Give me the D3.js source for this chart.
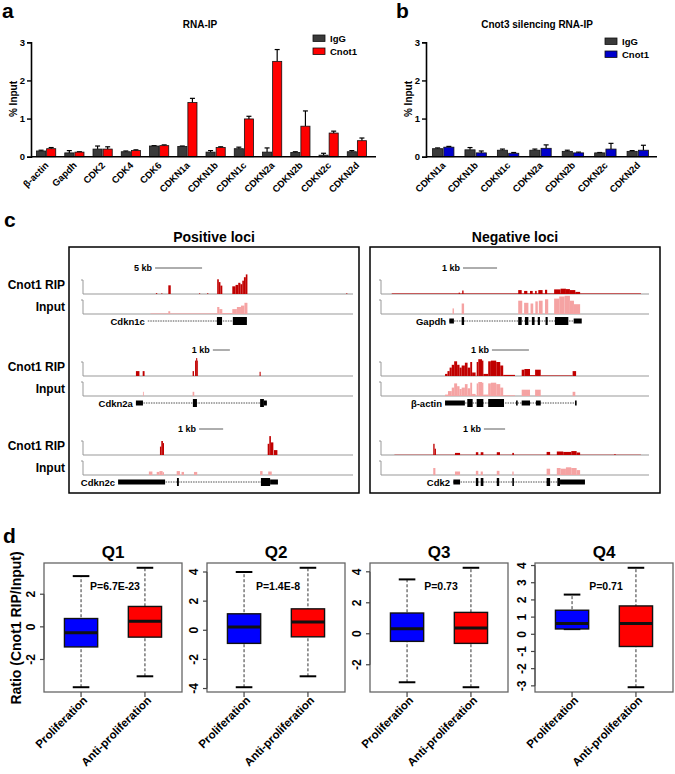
<!DOCTYPE html>
<html>
<head>
<meta charset="utf-8">
<script src="https://cdn.jsdelivr.net/npm/d3@7"></script>
<style>
  body { margin: 0; background: #fff; }
  text { font-family: "Liberation Sans", Arial, sans-serif; font-weight: bold; }
</style>
</head>
<body>
<script>
// ---- panel a / b data ----
const genesA = ["β-actin", "Gapdh", "CDK2", "CDK4", "CDK6", "CDKN1a", "CDKN1b", "CDKN1c", "CDKN2a", "CDKN2b", "CDKN2c", "CDKN2d"];
const iggA = [0.15, 0.10, 0.20, 0.13, 0.28, 0.27, 0.12, 0.21, 0.12, 0.11, 0.04, 0.13];
const iggAErr = [0.02, 0.06, 0.08, 0.02, 0.01, 0.01, 0.04, 0.04, 0.11, 0.02, 0.05, 0.03];
const cnot1A = [0.21, 0.12, 0.20, 0.16, 0.29, 1.42, 0.24, 0.99, 2.50, 0.80, 0.62, 0.42];
const cnot1AErr = [0.03, 0.01, 0.06, 0.02, 0.02, 0.11, 0.02, 0.07, 0.31, 0.40, 0.05, 0.07];

const genesB = ["CDKN1a", "CDKN1b", "CDKN1c", "CDKN2a", "CDKN2b", "CDKN2c", "CDKN2d"];
const iggB = [0.21, 0.18, 0.17, 0.17, 0.14, 0.10, 0.14];
const iggBErr = [0.02, 0.06, 0.03, 0.03, 0.03, 0.01, 0.02];
const cnot1B = [0.25, 0.10, 0.09, 0.22, 0.10, 0.20, 0.17];
const cnot1BErr = [0.02, 0.05, 0.02, 0.09, 0.02, 0.15, 0.13];
const yTicksAB = [0, 1, 2, 3];

// ---- panel c data: blocks [start, end, height] on a 0-100 track ----
const cdkn1cRip = [[27, 27.5, 0.06], [29, 29.4, 0.05], [31.6, 32.5, 0.62], [43, 43.4, 0.05], [46, 46.4, 0.06],
  [49.7, 50.3, 1.05], [50.3, 50.9, 0.85], [50.9, 51.6, 0.6], [55.3, 56.5, 0.55], [56.5, 57.5, 0.65],
  [57.5, 58.3, 0.8], [58.3, 59, 0.7], [59, 59.6, 0.95], [59.6, 60.3, 1.2], [60.3, 60.9, 1.4], [97.5, 97.9, 0.05]];
const cdkn1cInput = [[25, 31.6, 0.04], [31.6, 32.3, 0.2], [32.3, 49.7, 0.04], [49.7, 50.5, 0.5], [50.5, 51.6, 0.35],
  [51.6, 55.3, 0.06], [55.3, 57, 0.35], [57, 58.5, 0.5], [58.5, 59.8, 0.6], [59.8, 60.9, 0.8]];
const cdkn1cGene = [[24, 60.7, "line"], [49.6, 51.5, "tall"], [55.5, 60.7, "tall"]];

const cdkn2aRip = [[19.6, 20.9, 0.35], [22.1, 22.8, 0.35], [40.6, 41.1, 0.35], [41.5, 41.9, 1.1], [41.9, 42.3, 1.28],
  [42.3, 42.6, 1.1], [65.4, 65.8, 0.3]];
const cdkn2aInput = [[22.2, 22.5, 0.3], [40.6, 41.2, 0.3]];
const cdkn2aGene = [[19.6, 68.1, "line"], [19.6, 22.2, "mid"], [40.7, 42.2, "tall"], [65.6, 67, "tall"], [67, 68.1, "mid"]];

const cdkn2cRip = [[28.5, 29, 0.6], [29, 29.6, 1.0], [29.6, 30, 0.85], [68.4, 69, 0.8], [69, 69.6, 1.35],
  [69.6, 70.5, 0.9], [70.7, 72, 0.35]];
const cdkn2cInput = [[24.4, 25.7, 0.25], [27.3, 28.3, 0.22], [28.3, 29.5, 0.28], [29.5, 30, 0.2], [34.7, 35.9, 0.28],
  [36.5, 37.4, 0.22], [41.1, 42.3, 0.22], [65.6, 66.5, 0.28], [68.6, 69.9, 0.25]];
const cdkn2cGene = [[13, 72.2, "line"], [13, 30.4, "mid"], [34.8, 35.5, "tall"], [65.9, 69.3, "tall"], [69.3, 72.2, "mid"]];

const gapdhRip = [[4, 97, 0.04], [29, 29.4, 0.1], [30.3, 30.8, 0.25], [51.2, 52.5, 0.28], [53.4, 54.6, 0.22],
  [55.6, 56.6, 0.22], [57.5, 58.1, 0.22], [58.7, 60.3, 0.28], [61.2, 62, 0.3], [64.6, 67, 0.33], [67, 69, 0.38],
  [69, 70.5, 0.35], [70.5, 72.5, 0.28], [72.5, 74.3, 0.15]];
const gapdhInput = [[26.7, 27.2, 0.4], [30.1, 31, 0.75], [51.2, 52.7, 0.95], [53.4, 55, 0.8], [55.8, 56.8, 0.75],
  [57.6, 58.5, 0.9], [58.9, 60.3, 0.95], [61.2, 62.4, 1.05], [64.6, 66.5, 1.1], [66.5, 68.5, 1.25], [68.5, 70.5, 1.3],
  [70.5, 72, 0.95], [72, 74.3, 0.7]];
const gapdhGene = [[25.4, 74.6, "line"], [25.5, 27.2, "mid"], [30.1, 31, "tall"], [51.2, 52.5, "tall"], [53.7, 55, "tall"],
  [56.3, 57.3, "tall"], [58.5, 59.3, "tall"], [61.4, 62.2, "tall"], [64.9, 69.9, "tall"], [71.9, 74.9, "mid"]];

const actinRip = [[23.9, 24.8, 0.15], [24.8, 25.6, 0.35], [25.6, 26.4, 0.6], [26.4, 27.3, 0.8], [27.3, 28.4, 1.05],
  [28.4, 29.3, 0.8], [29.3, 30.1, 0.6], [30.1, 31.3, 0.75], [31.3, 32.3, 0.95], [32.3, 33.3, 0.6], [33.3, 34, 1.0],
  [34, 35.3, 0.25], [35.7, 36.3, 1.0], [36.3, 37.7, 1.2], [37.7, 38.2, 1.1], [38.2, 40, 0.15], [40, 41, 1.05],
  [41, 43, 1.1], [43, 44.5, 1.0], [44.5, 45.6, 0.75], [45.6, 50, 0.08], [52.5, 53.5, 0.45], [53.5, 55.6, 0.5],
  [55.6, 57.5, 0.06], [57.5, 59.6, 0.45], [59.6, 71.5, 0.04], [71.5, 72.8, 0.35]];
const actinInput = [[23.9, 25, 0.1], [25, 26.4, 0.35], [26.4, 27.3, 0.6], [27.3, 28.4, 0.9], [28.4, 29.3, 0.7],
  [29.3, 30.1, 0.5], [30.1, 31.3, 0.6], [31.3, 32.3, 0.85], [32.3, 33.3, 0.55], [33.3, 34, 0.95], [34, 35.3, 0.15],
  [35.7, 36.3, 0.9], [36.3, 37.7, 1.0], [37.7, 38.2, 0.95], [38.2, 40, 0.1], [40, 41, 0.9], [41, 43, 0.95],
  [43, 44.5, 0.85], [44.5, 45.6, 0.6], [45.6, 50, 0.05], [52.5, 55.6, 0.45], [57.5, 59.6, 0.45], [71.5, 72.5, 0.3]];
const actinGene = [[23.9, 72.8, "line"], [23.9, 31.3, "mid"], [32.2, 34.2, "tall"], [35.7, 38.2, "tall"], [40, 45.9, "tall"],
  [50.4, 51, "mid"], [52.5, 55.6, "mid"], [57.8, 59.6, "mid"], [72.4, 73, "mid"]];

const cdk2Rip = [[5, 97, 0.02], [19.5, 20, 0.8], [20, 20.5, 0.45], [27.6, 29.5, 0.15], [35.4, 36.3, 0.2], [37.2, 38.2, 0.2],
  [43.2, 44.4, 0.2], [49, 49.6, 0.15], [61.8, 63.1, 0.22], [65.6, 68, 0.25], [68, 71, 0.22], [71, 73, 0.28],
  [73, 74.3, 0.18], [87, 87.6, 0.05]];
const cdk2Input = [[19.5, 20.3, 0.5], [27.6, 29.5, 0.25], [35.4, 36.3, 0.3], [37.2, 38, 0.25], [43.2, 44.2, 0.3],
  [49, 49.5, 0.25], [61.8, 63.1, 0.45], [65.6, 67, 0.5], [67, 69, 0.45], [69, 71, 0.55], [71, 73, 0.5], [73, 74.3, 0.35]];
const cdk2Gene = [[26.9, 76.1, "line"], [27, 29.5, "mid"], [35.4, 36.3, "tall"], [37.2, 38.2, "tall"], [43.2, 44.1, "tall"],
  [49, 49.6, "tall"], [61.8, 63.1, "tall"], [65.8, 66.8, "tall"], [66.8, 76.1, "mid"]];

const geneNamesPos = ["Cdkn1c", "Cdkn2a", "Cdkn2c"];
const geneNamesNeg = ["Gapdh", "β-actin", "Cdk2"];
const scaleLabelsPos = ["5 kb", "1 kb", "1 kb"];
const scaleLabelsNeg = ["1 kb", "1 kb", "1 kb"];
const scaleBarsPos = [[26.7, 44.1], [48.1, 54.4], [43, 51.9]];
const scaleBarsNeg = [[30.6, 43.3], [41.4, 55.2], [38.4, 46.3]];

// ---- panel d data: [low whisker, Q1, median, Q3, high whisker] ----
const quarterNames = ["Q1", "Q2", "Q3", "Q4"];
const groupNames = ["Proliferation", "Anti-proliferation"];
const prolifStats = [[-3.70, -1.23, -0.36, 0.51, 3.11], [-3.91, -0.90, 0.23, 1.13, 4.00],
  [-3.13, -0.49, 0.32, 1.34, 3.51], [0.30, 0.31, 0.63, 1.40, 2.31]];
const antiStats = [[-3.03, -0.63, 0.34, 1.25, 3.62], [-3.16, -0.45, 0.56, 1.47, 4.29],
  [-3.45, -0.62, 0.38, 1.38, 4.26], [-3.08, -0.71, 0.63, 1.65, 3.87]];
const pValues = ["P=6.7E-23", "P=1.4E-8", "P=0.73", "P=0.71"];
const yTicksD = [[-2, 0, 2], [-4, -2, 0, 2, 4], [-2, 0, 2, 4], [-3, -2, -1, 0, 1, 2, 3, 4]];

const svg = d3.select("body").append("svg").attr("width", 675).attr("height", 774);
svg.append("rect").attr("width", 675).attr("height", 774).attr("fill", "#fff");

// panel letters
[["a", 2, 18], ["b", 396, 18], ["c", 4, 227], ["d", 3, 543]].forEach(([t, x, y]) => {
  svg.append("text").attr("x", x).attr("y", y).attr("font-size", 21).text(t);
});

// Grouped bar chart for RNA-IP panels
function barPanel(cats, igg, iggErr, cnot, cnotErr, o) {
  const g = svg.append("g");
  const y = d3.scaleLinear().domain([0, 3]).range([156.7, 42.3]);
  const x0 = d3.scaleBand().domain(cats).range(o.band).paddingInner(o.pad).paddingOuter(o.pad / 2);
  const x1 = d3.scaleBand().domain(["IgG", "Cnot1"]).range([0, x0.bandwidth()]).paddingInner(0.1);

  g.append("text").attr("x", o.titleX).attr("y", 28).attr("text-anchor", "middle")
    .attr("font-size", 10).text(o.title);

  const rows = cats.map((c, i) => ({ c, vals: [["IgG", igg[i], iggErr[i]], ["Cnot1", cnot[i], cnotErr[i]]] }));
  const grp = g.selectAll("g.grp").data(rows).join("g")
    .attr("transform", d => `translate(${x0(d.c)},0)`);
  grp.selectAll("line.err").data(d => d.vals).join("line")
    .attr("x1", d => x1(d[0]) + x1.bandwidth() / 2).attr("x2", d => x1(d[0]) + x1.bandwidth() / 2)
    .attr("y1", d => y(d[1])).attr("y2", d => y(d[1] + d[2])).attr("stroke", "#000").attr("stroke-width", 1.2);
  grp.selectAll("line.cap").data(d => d.vals).join("line")
    .attr("x1", d => x1(d[0]) + x1.bandwidth() / 2 - 2.5).attr("x2", d => x1(d[0]) + x1.bandwidth() / 2 + 2.5)
    .attr("y1", d => y(d[1] + d[2])).attr("y2", d => y(d[1] + d[2])).attr("stroke", "#000").attr("stroke-width", 1.2);
  grp.selectAll("rect").data(d => d.vals).join("rect")
    .attr("x", d => x1(d[0])).attr("width", x1.bandwidth())
    .attr("y", d => y(d[1])).attr("height", d => y(0) - y(d[1]))
    .attr("fill", d => d[0] === "IgG" ? "#3a3a3a" : o.color)
    .attr("stroke", "#111").attr("stroke-width", 0.8);

  // axes
  const ax = g.append("g").attr("transform", `translate(${o.axisX},0)`)
    .call(d3.axisLeft(y).tickValues(yTicksAB).tickFormat(d3.format("d")).tickSize(4).tickPadding(2));
  ax.select(".domain").attr("stroke-width", 1.6);
  ax.selectAll(".tick line").attr("stroke-width", 1.4);
  ax.selectAll(".tick text").attr("font-size", 9.5).attr("font-family", null);
  g.append("line").attr("x1", o.axisX).attr("x2", o.axisEnd).attr("y1", y(0)).attr("y2", y(0))
    .attr("stroke", "#000").attr("stroke-width", 1.6);
  g.append("text").attr("transform", `translate(${o.axisX - 14},99) rotate(-90)`)
    .attr("text-anchor", "middle").attr("font-size", 10).text("% Input");

  g.selectAll("text.xl").data(cats).join("text")
    .attr("text-anchor", "end").attr("font-size", 9.5)
    .attr("transform", d => `translate(${x0(d) + x0.bandwidth() / 2 + 3},166) rotate(-45)`)
    .text(d => d);

  // legend
  [["IgG", "#3a3a3a"], ["Cnot1", o.color]].forEach(([t, c], i) => {
    g.append("rect").attr("x", o.legX).attr("y", o.legY + i * 13).attr("width", 12).attr("height", 6.5)
      .attr("fill", c).attr("stroke", "#111").attr("stroke-width", 0.8);
    g.append("text").attr("x", o.legX + 17).attr("y", o.legY + 6.5 + i * 13).attr("font-size", 9.5).text(t);
  });
}

barPanel(genesA, iggA, iggAErr, cnot1A, cnot1AErr, {
  band: [32, 371], pad: 0.32, axisX: 31, axisEnd: 376, color: "#ff0000",
  title: "RNA-IP", titleX: 200, legX: 313, legY: 35
});
barPanel(genesB, iggB, iggBErr, cnot1B, cnot1BErr, {
  band: [427, 654], pad: 0.34, axisX: 426, axisEnd: 657, color: "#0000cc",
  title: "Cnot3 silencing RNA-IP", titleX: 537, legX: 605, legY: 38
});

// ---- panel c: genome browser tracks ----
const rowTop = [268, 350, 429];
const unitH = d3.scaleLinear().domain([0, 1]).range([0, 14]);

function trackBox(boxX, trackRange, title, loci, names, scaleLabels, scaleBars, withLabels) {
  const g = svg.append("g");
  const u = d3.scaleLinear().domain([0, 100]).range(trackRange);
  g.append("rect").attr("x", boxX).attr("y", 247).attr("width", 290).attr("height", 246)
    .attr("fill", "none").attr("stroke", "#000").attr("stroke-width", 1.5);
  g.append("text").attr("x", boxX + 145).attr("y", 242).attr("text-anchor", "middle")
    .attr("font-size", 14).text(title);

  loci.forEach((loc, i) => {
    const top = rowTop[i];
    const ripBase = top + 26, inBase = top + 46, geneY = top + 53;
    // scale bar
    const sb = scaleBars[i];
    g.append("line").attr("x1", u(sb[0])).attr("x2", u(sb[1])).attr("y1", top).attr("y2", top)
      .attr("stroke", "#333").attr("stroke-width", 0.8);
    g.append("text").attr("x", u(sb[0]) - 3).attr("y", top + 3).attr("text-anchor", "end")
      .attr("font-size", 9).text(scaleLabels[i]);
    // tracks
    [[loc[0], ripBase, "#c00000"], [loc[1], inBase, "#f5a3a3"]].forEach(([blocks, base, col]) => {
      g.append("path").attr("d", `M${trackRange[0] - 2},${base - 14}H${trackRange[0]}V${base}H${trackRange[1]}`)
        .attr("fill", "none").attr("stroke", "#999").attr("stroke-width", 1);
      g.selectAll(null).data(blocks).join("rect")
        .attr("x", d => u(d[0])).attr("width", d => Math.max(0.8, u(d[1]) - u(d[0])))
        .attr("y", d => base - unitH(d[2])).attr("height", d => unitH(d[2]))
        .attr("fill", col);
    });
    // gene model
    const gene = loc[2];
    const span = gene[0];
    g.append("line").attr("x1", u(span[0])).attr("x2", u(span[1])).attr("y1", geneY).attr("y2", geneY)
      .attr("stroke", "#222").attr("stroke-width", 0.8).attr("stroke-dasharray", "1.5,1");
    g.selectAll(null).data(gene.slice(1)).join("rect")
      .attr("x", d => u(d[0])).attr("width", d => Math.max(1.5, u(d[1]) - u(d[0])))
      .attr("y", d => geneY - (d[2] === "tall" ? 4 : 2.5)).attr("height", d => d[2] === "tall" ? 8 : 5)
      .attr("fill", "#000");
    g.append("text").attr("x", u(span[0]) - 3).attr("y", geneY + 3.5).attr("text-anchor", "end")
      .attr("font-size", 9.5).text(names[i]);
    if (withLabels) {
      svg.append("text").attr("x", 65).attr("y", ripBase - 5).attr("text-anchor", "end")
        .attr("font-size", 12).text("Cnot1 RIP");
      svg.append("text").attr("x", 65).attr("y", inBase - 3).attr("text-anchor", "end")
        .attr("font-size", 12).text("Input");
    }
  });
}

trackBox(69, [83, 353], "Positive loci",
  [[cdkn1cRip, cdkn1cInput, cdkn1cGene], [cdkn2aRip, cdkn2aInput, cdkn2aGene], [cdkn2cRip, cdkn2cInput, cdkn2cGene]],
  geneNamesPos, scaleLabelsPos, scaleBarsPos, true);
trackBox(370, [381, 649], "Negative loci",
  [[gapdhRip, gapdhInput, gapdhGene], [actinRip, actinInput, actinGene], [cdk2Rip, cdk2Input, cdk2Gene]],
  geneNamesNeg, scaleLabelsNeg, scaleBarsNeg, false);

// ---- panel d: box plots ----
const plotLefts = [44, 207, 370, 535];
const plotW = 138, plotTop = 563, plotBottom = 692;

svg.append("text").attr("transform", "translate(21,628) rotate(-90)").attr("text-anchor", "middle")
  .attr("font-size", 14).text("Ratio (Cnot1 RIP/Input)");

quarterNames.forEach((q, i) => {
  const g = svg.append("g");
  const stats = [prolifStats[i], antiStats[i]];
  const lo = d3.min(stats, s => s[0]), hi = d3.max(stats, s => s[4]);
  const pad = (hi - lo) * 0.04;
  const y = d3.scaleLinear().domain([lo - pad, hi + pad]).range([plotBottom, plotTop]);
  const x = d3.scaleLinear().domain([0.42, 2.58]).range([plotLefts[i], plotLefts[i] + plotW]);
  const bw = 0.26;

  g.append("text").attr("x", plotLefts[i] + plotW / 2).attr("y", 558).attr("text-anchor", "middle")
    .attr("font-size", 17).text(q);

  stats.forEach((s, j) => {
    const cx = x(j + 1);
    const half = x(1 + bw) - x(1);
    const col = j === 0 ? "#0000ff" : "#ff0000";
    g.append("line").attr("x1", cx).attr("x2", cx).attr("y1", y(s[0])).attr("y2", y(s[4]))
      .attr("stroke", "#333").attr("stroke-width", 1).attr("stroke-dasharray", "3,2");
    [s[0], s[4]].forEach(v => {
      g.append("line").attr("x1", cx - half / 2).attr("x2", cx + half / 2).attr("y1", y(v)).attr("y2", y(v))
        .attr("stroke", "#000").attr("stroke-width", 2);
    });
    g.append("rect").attr("x", cx - half).attr("width", half * 2)
      .attr("y", y(s[3])).attr("height", y(s[1]) - y(s[3]))
      .attr("fill", col).attr("stroke", "#111").attr("stroke-width", 1.4);
    g.append("line").attr("x1", cx - half).attr("x2", cx + half).attr("y1", y(s[2])).attr("y2", y(s[2]))
      .attr("stroke", "#111").attr("stroke-width", 3);
  });

  g.append("rect").attr("x", plotLefts[i]).attr("y", plotTop).attr("width", plotW).attr("height", plotBottom - plotTop)
    .attr("fill", "none").attr("stroke", "#666").attr("stroke-width", 1.3);

  const ticks = yTicksD[i];
  g.append("line").attr("x1", plotLefts[i]).attr("x2", plotLefts[i])
    .attr("y1", y(ticks[0])).attr("y2", y(ticks[ticks.length - 1])).attr("stroke", "#444");
  g.selectAll(null).data(ticks).join("line")
    .attr("x1", plotLefts[i] - 4).attr("x2", plotLefts[i]).attr("y1", d => y(d)).attr("y2", d => y(d))
    .attr("stroke", "#444").attr("stroke-width", 1.2);
  g.selectAll(null).data(ticks).join("text")
    .attr("transform", d => `translate(${plotLefts[i] - 9},${y(d)}) rotate(-90)`)
    .attr("text-anchor", "middle").attr("font-size", 12).text(d => d);

  g.selectAll(null).data(groupNames).join("line")
    .attr("x1", (d, j) => x(j + 1)).attr("x2", (d, j) => x(j + 1))
    .attr("y1", plotBottom).attr("y2", plotBottom + 5).attr("stroke", "#444").attr("stroke-width", 1.2);
  g.selectAll(null).data(groupNames).join("text")
    .attr("transform", (d, j) => `translate(${x(j + 1) + 7},${plotBottom + 9}) rotate(-45)`)
    .attr("text-anchor", "end").attr("font-size", 11.5).text(d => d);

  g.append("text").attr("x", x(1.5) + 2).attr("y", 590).attr("text-anchor", "middle")
    .attr("font-size", 10.5).text(pValues[i]);
});
</script>
</body>
</html>
